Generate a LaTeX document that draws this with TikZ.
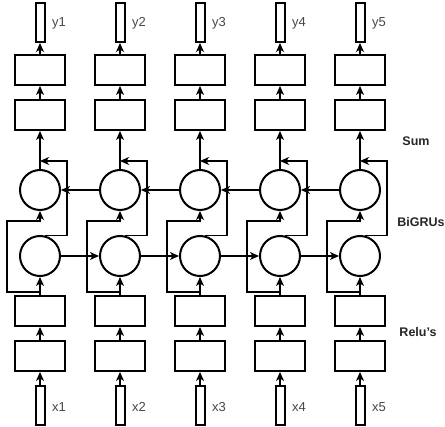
\documentclass[tikz,border=0pt]{standalone}
\usepackage{fontspec}
\setmainfont{Liberation Sans}
\usetikzlibrary{arrows.meta}

\begin{document}
\begin{tikzpicture}[x=1pt, y=-1pt]
    % Define styles
    \tikzset{
        relubox/.style={draw, line width=2pt, minimum width=50pt, minimum height=30pt, inner sep=0pt},
        iobox/.style={draw, line width=2pt, minimum width=9pt, minimum height=39pt, inner sep=0pt},
        gru/.style={draw, circle, line width=2pt, minimum size=40pt, inner sep=0pt},
        conn/.style={->, line width=1.1pt, >={Stealth[length=9pt, width=8pt, inset=2.5pt]}},
        varlabel/.style={anchor=west, inner sep=0pt, text=black!72, font=\fontsize{13}{15}\selectfont},
        layerlabel/.style={inner sep=0pt, text=black!85, font=\fontsize{12.5}{15}\selectfont\bfseries}
    }
    \useasboundingbox[fill=white] (0,0) rectangle (445,427);

    % Columns
    \foreach \i in {1,...,5} {
        \pgfmathsetmacro{\x}{40+80*(\i-1)}
        \node[iobox] (y\i) at (\x,22.5) {};
        \node[varlabel] at (\x+12,23) {y\i};
        \node[relubox] (t\i) at (\x,70) {};
        \node[relubox] (s\i) at (\x,115) {};
        \node[gru] (b\i) at (\x,190) {};
        \node[gru] (f\i) at (\x,256) {};
        \node[relubox] (r\i) at (\x,311) {};
        \node[relubox] (e\i) at (\x,356) {};
        \node[iobox] (x\i) at (\x,406) {};
        \node[varlabel] at (\x+12,407) {x\i};

        % helper points
        \coordinate (m\i) at (\x,161);
        \coordinate (k\i) at (\x+27,161);
        \coordinate (d\i) at (\x,292);
        \coordinate (g\i) at (\x-33,221);
        \coordinate (h\i) at (\x,221);

        % vertical flow
        \draw[conn] (x\i.north) -- (e\i.south);
        \draw[conn] (e\i.north) -- (r\i.south);
        \draw[conn] (r\i.north) -- (f\i.south);
        \draw[conn] (b\i.north) -- (s\i.south);
        \draw[conn] (s\i.north) -- (t\i.south);
        \draw[conn] (t\i.north) -- (y\i.south);

        % input to backward GRU, forward GRU to sum
        \draw[conn] (d\i) -| (g\i) -- (h\i) -- (b\i.south);
        \draw[conn] (f\i.75) -| (k\i) -- (m\i);
    }

    % Recurrent links
    \foreach \i/\j in {1/2,2/3,3/4,4/5} {
        \draw[conn] (f\i.east) -- (f\j.west);
        \draw[conn] (b\j.west) -- (b\i.east);
    }

    % Layer names
    \node[layerlabel] (sum) at (416,141) {Sum};
    \node[layerlabel] (bigru) at (421,222) {BiGRUs};
    \node[layerlabel] (relu) at (418,332) {Relu's};
\end{tikzpicture}
\end{document}
